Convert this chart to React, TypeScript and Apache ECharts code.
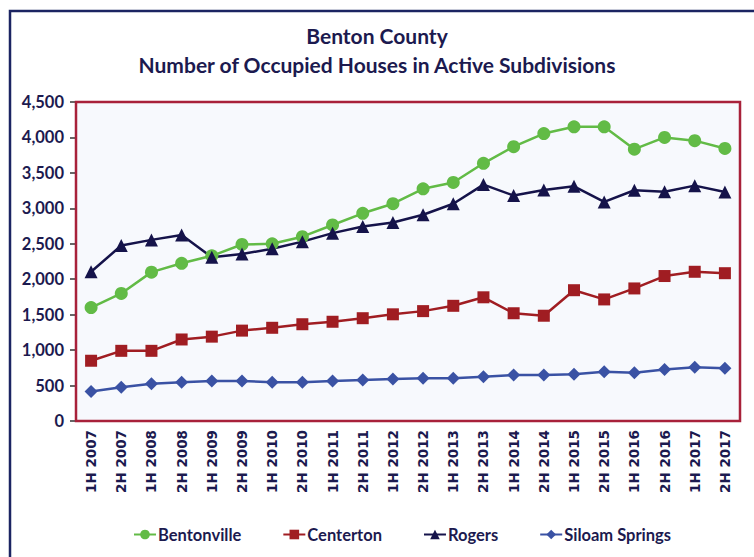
import React, { useEffect, useRef } from "react";
import * as echarts from "echarts";

const categories = [
  "1H 2007", "2H 2007", "1H 2008", "2H 2008", "1H 2009", "2H 2009",
  "1H 2010", "2H 2010", "1H 2011", "2H 2011", "1H 2012", "2H 2012",
  "1H 2013", "2H 2013", "1H 2014", "2H 2014", "1H 2015", "2H 2015",
  "1H 2016", "2H 2016", "1H 2017", "2H 2017",
];

const bentonville = [1600, 1800, 2100, 2225, 2330, 2490, 2500, 2600, 2765, 2930, 3065, 3275, 3365, 3635, 3870, 4055, 4150, 4150, 3835, 4000, 3955, 3845];
const centerton = [850, 990, 990, 1150, 1190, 1275, 1315, 1365, 1400, 1450, 1505, 1550, 1625, 1745, 1520, 1485, 1845, 1715, 1870, 2045, 2105, 2085];
const rogers = [2105, 2475, 2555, 2625, 2310, 2355, 2430, 2530, 2650, 2745, 2800, 2910, 3065, 3335, 3180, 3260, 3310, 3090, 3255, 3235, 3320, 3230];
const siloamSprings = [415, 475, 525, 545, 565, 565, 545, 545, 565, 580, 592, 602, 602, 625, 650, 650, 660, 695, 682, 728, 757, 743];

const titleLines = ["Benton County", "Number of Occupied Houses in Active Subdivisions"];

const NAVY = "#1C1A4F";

export default function App() {
  const ref = useRef<HTMLDivElement>(null);
  useEffect(() => {
    document.body.style.margin = "0";
    const chart = echarts.init(ref.current!, null, { renderer: "svg" });
    const mk = (name: string, data: number[], color: string, symbol: string, size: number) => ({
      name,
      type: "line",
      data,
      symbol,
      symbolSize: size,
      lineStyle: { color, width: 2.5 },
      itemStyle: { color },
      z: 3,
    });
    chart.setOption({
      animation: false,
      backgroundColor: "#FFFFFF",
      title: {
        text: titleLines.join("\n"),
        left: "center",
        top: 16,
        textStyle: {
          fontFamily: "Lato",
          fontWeight: "bold",
          fontSize: 21,
          lineHeight: 29,
          color: NAVY,
        },
      },
      graphic: [
        {
          type: "rect",
          shape: { x: 10, y: 11, width: 800, height: 600 },
          style: { fill: "none", stroke: "#1B2462", lineWidth: 2.5 },
          z: 0,
        },
      ],
      legend: {
        bottom: 9,
        left: 128,
        itemGap: 41,
        itemWidth: 22,
        itemHeight: 12,
        textStyle: {
          fontFamily: "Lato",
          fontWeight: "bold",
          fontSize: 16.5,
          color: NAVY,
          padding: [0, 0, 0, -3],
        },
        data: ["Bentonville", "Centerton", "Rogers", "Siloam Springs"],
      },
      grid: {
        left: 76,
        top: 102,
        width: 664,
        height: 319,
        show: true,
        backgroundColor: "#F7F9FD",
        borderColor: "#A8213A",
        borderWidth: 2.5,
        z: 1,
      },
      xAxis: {
        type: "category",
        data: categories,
        boundaryGap: true,
        axisLine: { show: false },
        axisTick: { show: false },
        axisLabel: {
          rotate: 90,
          interval: 0,
          margin: 9,
          fontFamily: "DejaVu Sans",
          fontWeight: "bold",
          fontSize: 13.5,
          color: NAVY,
        },
      },
      yAxis: {
        type: "value",
        min: 0,
        max: 4500,
        interval: 500,
        axisLine: { show: false },
        axisTick: { show: true, length: 6, lineStyle: { color: "#333", width: 1.5 } },
        splitLine: { show: true, lineStyle: { color: "#3a3a3a", width: 1 } },
        axisLabel: {
          margin: 12,
          fontFamily: "Lato",
          fontWeight: "bold",
          fontSize: 16.5,
          color: NAVY,
          formatter: (v: number) => v.toLocaleString("en-US"),
        },
      },
      series: [
        mk("Bentonville", bentonville, "#62BB46", "circle", 13),
        mk("Centerton", centerton, "#A01D22", "rect", 12),
        mk("Rogers", rogers, "#15134A", "triangle", 13),
        mk("Siloam Springs", siloamSprings, "#3A52A4", "diamond", 13),
      ],
    });
    return () => chart.dispose();
  }, []);
  return <div ref={ref} style={{ position: "absolute", left: 0, top: 0, width: 754, height: 557 }} />;
}
